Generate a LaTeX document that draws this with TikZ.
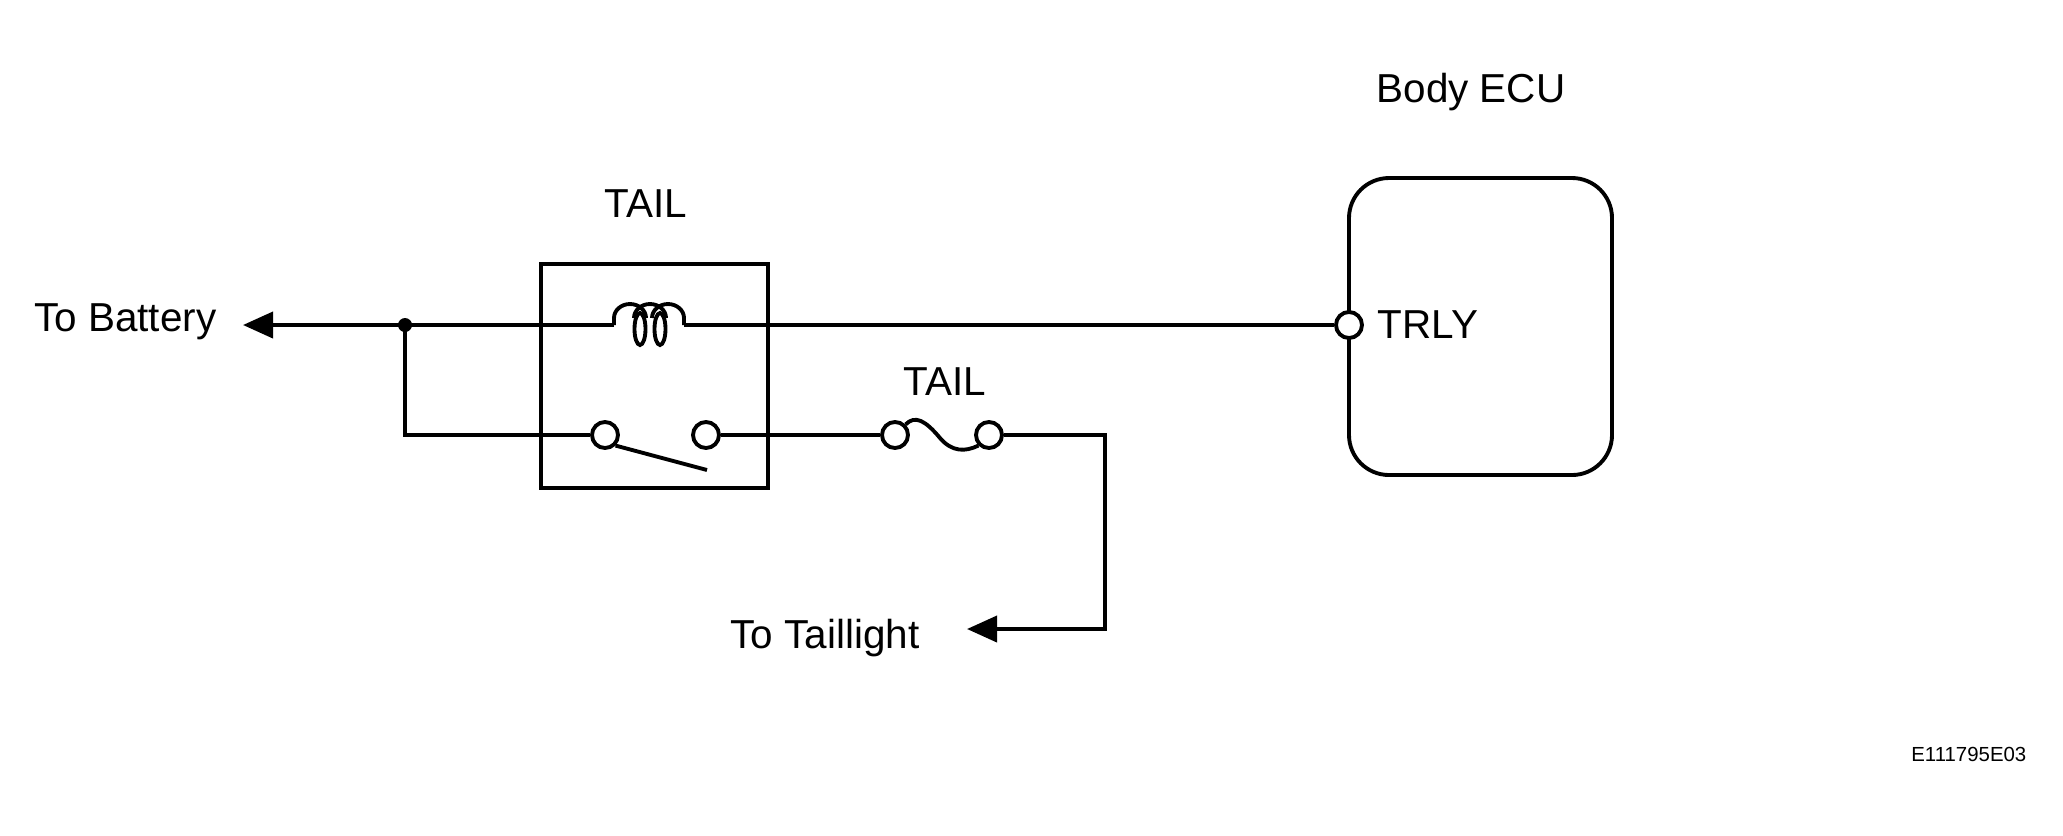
\documentclass[tikz,border=0pt]{standalone}
\usepackage{fontspec}
\setmainfont{Liberation Sans}
\usetikzlibrary{arrows.meta}
\tikzset{
  wire/.style={line width=1.1pt},
  lbl/.style={font=\fontsize{11.5}{13}\selectfont, inner sep=0pt},
  term/.style={circle, draw, line width=1.1pt, fill=white, minimum size=0.26cm, inner sep=0pt},
  tip/.style={-{Triangle[length=0.3cm,width=0.26cm]}}
}
\begin{document}
\begin{tikzpicture}[x=0.01cm,y=-0.01cm]
  \useasboundingbox (0,0) rectangle (2063,835);
  % relay box
  \draw[wire] (541,264) rectangle (768,488);
  \node[lbl] (tailr) at (646,204) {TAIL};
  % ECU
  \draw[wire, rounded corners=0.4cm] (1349,178) rectangle (1612,475);
  \node[lbl] (ecu) at (1471,92) {Body ECU};
  \node[term] (trly) at (1349,325) {};
  \node[lbl, anchor=west] (trlyt) at (1377,325) {TRLY};
  % labels
  \node[lbl, anchor=east] (bat) at (217,322) {To Battery};
  \node[lbl, anchor=east] (tl) at (920,638) {To Taillight};
  \node[font=\fontsize{5.8}{7}\selectfont, inner sep=0pt, anchor=east] (code) at (2027,754) {E111795E03};
  % junction and arrow ends
  \coordinate (j) at (405,325);
  \coordinate (batarr) at (243,325);
  \coordinate (tlarr) at (967,629);
  \fill (j) circle (0.07cm);
  % coil
  \coordinate (c1) at (614,325);
  \coordinate (c2) at (684,325);
  \draw[wire] (trly) -- (c2);
  \draw[wire, tip] (c1) -- (batarr);
  \draw[wire] (c1) -- (614,318) arc (180:360:16 and 14);
  \draw[wire] (634,318) arc (180:360:16 and 14);
  \draw[wire] (652,318) arc (180:360:16 and 14) -- (c2);
  \draw[wire] (640,329) ellipse (0.055cm and 0.16cm);
  \draw[wire] (660,329) ellipse (0.055cm and 0.16cm);
  % switch
  \node[term] (s1) at (605,435) {};
  \node[term] (s2) at (706,435) {};
  \draw[wire] (j) -- (405,435) -- (s1);
  \draw[wire] (s1.south east) -- (707,470);
  % fuse
  \node[term] (f1) at (895,435) {};
  \node[term] (f2) at (989,435) {};
  \node[lbl] (tailf) at (945,382) {TAIL};
  \draw[wire] (s2) -- (f1);
  \draw[wire] (f1.north east) .. controls (915,415) and (925,420) .. (940,438)
    .. controls (952,452) and (965,452) .. (f2.south west);
  \draw[wire, tip] (f2) -- (1105,435) -- (1105,629) -- (tlarr);
\end{tikzpicture}
\end{document}
